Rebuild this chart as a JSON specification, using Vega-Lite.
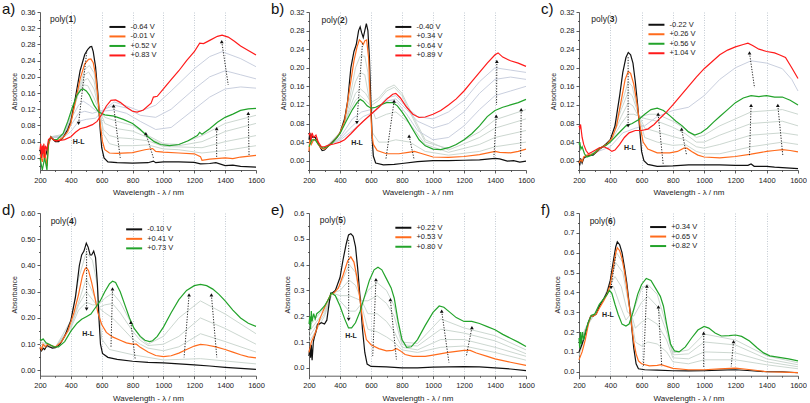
{
"$schema":"https://vega.github.io/schema/vega-lite/v6.json",
"padding":{"left":2,"top":2,"right":0,"bottom":0},
"background":"white",
"config":{"view":{"stroke":null},"font":"Liberation Sans",
"axis":{"labelFont":"Liberation Sans","titleFont":"Liberation Sans","labelFontSize":7.5,"titleFontWeight":"normal","domainColor":"#333","tickColor":"#333","labelColor":"#222","titleColor":"#222","domainWidth":0.8,"tickWidth":0.8,"labelPadding":2,"titlePadding":3,"labelFlush":false,"labelOverlap":false},
"axisX":{"titleFontSize":8,"labelPadding":3,"titlePadding":5},"axisY":{"titleFontSize":7,"grid":false},
"legend":{"symbolType":"M-4,0L4,0","symbolSize":16,"symbolStrokeWidth":2,"labelFontSize":7.5,"labelFont":"Liberation Sans","labelColor":"#222","rowPadding":0.5,"padding":0,"labelOffset":9.3,"orient":"none"},
"title":{"anchor":"start","frame":"group","dx":-38,"offset":-9,"fontSize":15,"fontWeight":"normal","color":"#111","font":"Liberation Sans"}},
"datasets":{
"a":[
{"s":"-0.64 V","x":200,"y":0.02},{"s":"-0.64 V","x":210,"y":0.0},{"s":"-0.64 V","x":220,"y":0.03},{"s":"-0.64 V","x":230,"y":0.0},{"s":"-0.64 V","x":240,"y":0.01},{"s":"-0.64 V","x":255,"y":0.035},{"s":"-0.64 V","x":270,"y":0.052},{"s":"-0.64 V","x":285,"y":0.045},{"s":"-0.64 V","x":300,"y":0.04},{"s":"-0.64 V","x":320,"y":0.04},{"s":"-0.64 V","x":350,"y":0.05},{"s":"-0.64 V","x":380,"y":0.07},{"s":"-0.64 V","x":400,"y":0.09},{"s":"-0.64 V","x":430,"y":0.15},{"s":"-0.64 V","x":460,"y":0.215},{"s":"-0.64 V","x":490,"y":0.255},{"s":"-0.64 V","x":510,"y":0.268},{"s":"-0.64 V","x":525,"y":0.274},{"s":"-0.64 V","x":535,"y":0.275},{"s":"-0.64 V","x":545,"y":0.262},{"s":"-0.64 V","x":560,"y":0.225},{"s":"-0.64 V","x":575,"y":0.16},{"s":"-0.64 V","x":590,"y":0.07},{"s":"-0.64 V","x":600,"y":0.025},{"s":"-0.64 V","x":615,"y":0.0},{"s":"-0.64 V","x":640,"y":-0.01},{"s":"-0.64 V","x":700,"y":-0.012},{"s":"-0.64 V","x":800,"y":-0.013},{"s":"-0.64 V","x":900,"y":-0.012},{"s":"-0.64 V","x":935,"y":-0.008},{"s":"-0.64 V","x":950,"y":-0.012},{"s":"-0.64 V","x":1000,"y":-0.01},{"s":"-0.64 V","x":1100,"y":-0.01},{"s":"-0.64 V","x":1200,"y":-0.011},{"s":"-0.64 V","x":1240,"y":-0.015},{"s":"-0.64 V","x":1300,"y":-0.014},{"s":"-0.64 V","x":1340,"y":-0.012},{"s":"-0.64 V","x":1400,"y":-0.019},{"s":"-0.64 V","x":1450,"y":-0.018},{"s":"-0.64 V","x":1500,"y":-0.021},{"s":"-0.64 V","x":1600,"y":-0.023},
{"s":"-0.01 V","x":200,"y":0.01},{"s":"-0.01 V","x":215,"y":-0.01},{"s":"-0.01 V","x":230,"y":0.02},{"s":"-0.01 V","x":245,"y":-0.02},{"s":"-0.01 V","x":255,"y":0.03},{"s":"-0.01 V","x":270,"y":0.052},{"s":"-0.01 V","x":290,"y":0.045},{"s":"-0.01 V","x":310,"y":0.042},{"s":"-0.01 V","x":350,"y":0.05},{"s":"-0.01 V","x":380,"y":0.065},{"s":"-0.01 V","x":400,"y":0.085},{"s":"-0.01 V","x":430,"y":0.14},{"s":"-0.01 V","x":460,"y":0.195},{"s":"-0.01 V","x":490,"y":0.232},{"s":"-0.01 V","x":515,"y":0.243},{"s":"-0.01 V","x":530,"y":0.244},{"s":"-0.01 V","x":545,"y":0.235},{"s":"-0.01 V","x":560,"y":0.205},{"s":"-0.01 V","x":575,"y":0.15},{"s":"-0.01 V","x":590,"y":0.085},{"s":"-0.01 V","x":605,"y":0.04},{"s":"-0.01 V","x":620,"y":0.02},{"s":"-0.01 V","x":650,"y":0.012},{"s":"-0.01 V","x":700,"y":0.011},{"s":"-0.01 V","x":800,"y":0.013},{"s":"-0.01 V","x":880,"y":0.02},{"s":"-0.01 V","x":930,"y":0.023},{"s":"-0.01 V","x":950,"y":0.016},{"s":"-0.01 V","x":1000,"y":0.014},{"s":"-0.01 V","x":1100,"y":0.012},{"s":"-0.01 V","x":1200,"y":0.01},{"s":"-0.01 V","x":1240,"y":0.003},{"s":"-0.01 V","x":1250,"y":-0.006},{"s":"-0.01 V","x":1300,"y":-0.003},{"s":"-0.01 V","x":1400,"y":0.0},{"s":"-0.01 V","x":1450,"y":-0.002},{"s":"-0.01 V","x":1500,"y":0.002},{"s":"-0.01 V","x":1600,"y":0.006},
{"s":"+0.52 V","x":200,"y":0.0},{"s":"+0.52 V","x":215,"y":-0.03},{"s":"+0.52 V","x":230,"y":0.0},{"s":"+0.52 V","x":245,"y":-0.03},{"s":"+0.52 V","x":255,"y":0.04},{"s":"+0.52 V","x":270,"y":0.05},{"s":"+0.52 V","x":290,"y":0.045},{"s":"+0.52 V","x":310,"y":0.045},{"s":"+0.52 V","x":350,"y":0.06},{"s":"+0.52 V","x":380,"y":0.09},{"s":"+0.52 V","x":410,"y":0.125},{"s":"+0.52 V","x":440,"y":0.155},{"s":"+0.52 V","x":465,"y":0.168},{"s":"+0.52 V","x":480,"y":0.17},{"s":"+0.52 V","x":500,"y":0.165},{"s":"+0.52 V","x":520,"y":0.155},{"s":"+0.52 V","x":550,"y":0.13},{"s":"+0.52 V","x":580,"y":0.113},{"s":"+0.52 V","x":620,"y":0.106},{"s":"+0.52 V","x":680,"y":0.103},{"s":"+0.52 V","x":740,"y":0.095},{"s":"+0.52 V","x":800,"y":0.085},{"s":"+0.52 V","x":850,"y":0.07},{"s":"+0.52 V","x":900,"y":0.052},{"s":"+0.52 V","x":940,"y":0.04},{"s":"+0.52 V","x":980,"y":0.033},{"s":"+0.52 V","x":1040,"y":0.03},{"s":"+0.52 V","x":1100,"y":0.033},{"s":"+0.52 V","x":1160,"y":0.042},{"s":"+0.52 V","x":1220,"y":0.055},{"s":"+0.52 V","x":1235,"y":0.063},{"s":"+0.52 V","x":1250,"y":0.058},{"s":"+0.52 V","x":1300,"y":0.072},{"s":"+0.52 V","x":1350,"y":0.088},{"s":"+0.52 V","x":1400,"y":0.1},{"s":"+0.52 V","x":1450,"y":0.108},{"s":"+0.52 V","x":1500,"y":0.117},{"s":"+0.52 V","x":1550,"y":0.121},{"s":"+0.52 V","x":1600,"y":0.122},
{"s":"+0.83 V","x":200,"y":0.02},{"s":"+0.83 V","x":205,"y":0.035},{"s":"+0.83 V","x":210,"y":0.0},{"s":"+0.83 V","x":215,"y":0.03},{"s":"+0.83 V","x":220,"y":0.01},{"s":"+0.83 V","x":225,"y":0.035},{"s":"+0.83 V","x":230,"y":0.0},{"s":"+0.83 V","x":235,"y":0.03},{"s":"+0.83 V","x":245,"y":0.02},{"s":"+0.83 V","x":255,"y":0.045},{"s":"+0.83 V","x":270,"y":0.05},{"s":"+0.83 V","x":285,"y":0.045},{"s":"+0.83 V","x":300,"y":0.042},{"s":"+0.83 V","x":330,"y":0.043},{"s":"+0.83 V","x":360,"y":0.045},{"s":"+0.83 V","x":400,"y":0.052},{"s":"+0.83 V","x":430,"y":0.063},{"s":"+0.83 V","x":460,"y":0.072},{"s":"+0.83 V","x":500,"y":0.076},{"s":"+0.83 V","x":540,"y":0.082},{"s":"+0.83 V","x":570,"y":0.09},{"s":"+0.83 V","x":600,"y":0.107},{"s":"+0.83 V","x":630,"y":0.128},{"s":"+0.83 V","x":660,"y":0.142},{"s":"+0.83 V","x":690,"y":0.143},{"s":"+0.83 V","x":720,"y":0.137},{"s":"+0.83 V","x":760,"y":0.125},{"s":"+0.83 V","x":800,"y":0.115},{"s":"+0.83 V","x":830,"y":0.113},{"s":"+0.83 V","x":870,"y":0.118},{"s":"+0.83 V","x":920,"y":0.135},{"s":"+0.83 V","x":935,"y":0.15},{"s":"+0.83 V","x":960,"y":0.152},{"s":"+0.83 V","x":1000,"y":0.17},{"s":"+0.83 V","x":1050,"y":0.193},{"s":"+0.83 V","x":1100,"y":0.215},{"s":"+0.83 V","x":1150,"y":0.24},{"s":"+0.83 V","x":1200,"y":0.262},{"s":"+0.83 V","x":1235,"y":0.283},{"s":"+0.83 V","x":1260,"y":0.282},{"s":"+0.83 V","x":1300,"y":0.29},{"s":"+0.83 V","x":1350,"y":0.3},{"s":"+0.83 V","x":1380,"y":0.303},{"s":"+0.83 V","x":1420,"y":0.298},{"s":"+0.83 V","x":1460,"y":0.288},{"s":"+0.83 V","x":1500,"y":0.276},{"s":"+0.83 V","x":1550,"y":0.265},{"s":"+0.83 V","x":1600,"y":0.254},
{"s":"g1","x":270,"y":0.052},{"s":"g1","x":350,"y":0.05},{"s":"g1","x":400,"y":0.088},{"s":"g1","x":450,"y":0.17},{"s":"g1","x":490,"y":0.218},{"s":"g1","x":520,"y":0.228},{"s":"g1","x":550,"y":0.21},{"s":"g1","x":580,"y":0.14},{"s":"g1","x":610,"y":0.06},{"s":"g1","x":650,"y":0.035},{"s":"g1","x":700,"y":0.03},{"s":"g1","x":800,"y":0.03},{"s":"g1","x":900,"y":0.032},{"s":"g1","x":1000,"y":0.022},{"s":"g1","x":1100,"y":0.02},{"s":"g1","x":1250,"y":0.012},{"s":"g1","x":1400,"y":0.018},{"s":"g1","x":1600,"y":0.03},
{"s":"g2","x":270,"y":0.052},{"s":"g2","x":350,"y":0.052},{"s":"g2","x":400,"y":0.092},{"s":"g2","x":450,"y":0.165},{"s":"g2","x":490,"y":0.205},{"s":"g2","x":515,"y":0.212},{"s":"g2","x":550,"y":0.19},{"s":"g2","x":580,"y":0.13},{"s":"g2","x":610,"y":0.07},{"s":"g2","x":650,"y":0.055},{"s":"g2","x":700,"y":0.05},{"s":"g2","x":800,"y":0.047},{"s":"g2","x":900,"y":0.042},{"s":"g2","x":1000,"y":0.028},{"s":"g2","x":1100,"y":0.027},{"s":"g2","x":1250,"y":0.025},{"s":"g2","x":1400,"y":0.04},{"s":"g2","x":1600,"y":0.055},
{"s":"g3","x":270,"y":0.052},{"s":"g3","x":350,"y":0.055},{"s":"g3","x":400,"y":0.098},{"s":"g3","x":450,"y":0.16},{"s":"g3","x":490,"y":0.192},{"s":"g3","x":510,"y":0.196},{"s":"g3","x":550,"y":0.17},{"s":"g3","x":580,"y":0.125},{"s":"g3","x":620,"y":0.085},{"s":"g3","x":700,"y":0.072},{"s":"g3","x":800,"y":0.066},{"s":"g3","x":900,"y":0.05},{"s":"g3","x":1000,"y":0.032},{"s":"g3","x":1100,"y":0.03},{"s":"g3","x":1250,"y":0.04},{"s":"g3","x":1400,"y":0.065},{"s":"g3","x":1600,"y":0.085},
{"s":"g4","x":270,"y":0.052},{"s":"g4","x":350,"y":0.058},{"s":"g4","x":400,"y":0.105},{"s":"g4","x":450,"y":0.16},{"s":"g4","x":485,"y":0.18},{"s":"g4","x":510,"y":0.178},{"s":"g4","x":550,"y":0.148},{"s":"g4","x":580,"y":0.12},{"s":"g4","x":620,"y":0.1},{"s":"g4","x":700,"y":0.09},{"s":"g4","x":800,"y":0.08},{"s":"g4","x":900,"y":0.055},{"s":"g4","x":1000,"y":0.035},{"s":"g4","x":1100,"y":0.033},{"s":"g4","x":1250,"y":0.055},{"s":"g4","x":1400,"y":0.085},{"s":"g4","x":1600,"y":0.105},
{"s":"b1","x":270,"y":0.05},{"s":"b1","x":350,"y":0.055},{"s":"b1","x":400,"y":0.095},{"s":"b1","x":450,"y":0.13},{"s":"b1","x":480,"y":0.14},{"s":"b1","x":520,"y":0.13},{"s":"b1","x":560,"y":0.117},{"s":"b1","x":600,"y":0.115},{"s":"b1","x":680,"y":0.118},{"s":"b1","x":760,"y":0.11},{"s":"b1","x":850,"y":0.09},{"s":"b1","x":950,"y":0.07},{"s":"b1","x":1050,"y":0.075},{"s":"b1","x":1200,"y":0.12},{"s":"b1","x":1300,"y":0.15},{"s":"b1","x":1400,"y":0.17},{"s":"b1","x":1500,"y":0.175},{"s":"b1","x":1600,"y":0.172},
{"s":"b2","x":270,"y":0.05},{"s":"b2","x":350,"y":0.052},{"s":"b2","x":400,"y":0.08},{"s":"b2","x":450,"y":0.11},{"s":"b2","x":490,"y":0.115},{"s":"b2","x":540,"y":0.11},{"s":"b2","x":600,"y":0.117},{"s":"b2","x":680,"y":0.13},{"s":"b2","x":760,"y":0.123},{"s":"b2","x":850,"y":0.105},{"s":"b2","x":950,"y":0.1},{"s":"b2","x":1050,"y":0.12},{"s":"b2","x":1200,"y":0.17},{"s":"b2","x":1300,"y":0.2},{"s":"b2","x":1400,"y":0.215},{"s":"b2","x":1500,"y":0.205},{"s":"b2","x":1600,"y":0.195},
{"s":"b3","x":270,"y":0.05},{"s":"b3","x":350,"y":0.05},{"s":"b3","x":400,"y":0.065},{"s":"b3","x":450,"y":0.09},{"s":"b3","x":500,"y":0.095},{"s":"b3","x":560,"y":0.098},{"s":"b3","x":620,"y":0.12},{"s":"b3","x":680,"y":0.138},{"s":"b3","x":760,"y":0.128},{"s":"b3","x":850,"y":0.115},{"s":"b3","x":950,"y":0.13},{"s":"b3","x":1050,"y":0.165},{"s":"b3","x":1200,"y":0.22},{"s":"b3","x":1300,"y":0.25},{"s":"b3","x":1380,"y":0.262},{"s":"b3","x":1500,"y":0.245},{"s":"b3","x":1600,"y":0.225}
],
"a_arr":[{"x":450,"y":0.085,"x2":504,"y2":0.265,"d":"down"},{"x":677,"y":0.128,"x2":720,"y2":0.0,"d":"up"},{"x":886,"y":0.06,"x2":935,"y2":0.0,"d":"up"},{"x":1378,"y":0.287,"x2":1420,"y2":0.18,"d":"up"},{"x":1345,"y":0.072,"x2":1345,"y2":0.0,"d":"up"},{"x":1550,"y":0.11,"x2":1555,"y2":0.005,"d":"up"}],
"a_t":[{"k":"p","x":265,"y":0.343,"n":"1"},{"k":"h","x":450,"y":0.038}],
"b":[
{"s":"-0.40 V","x":200,"y":0.045},{"s":"-0.40 V","x":205,"y":0.06},{"s":"-0.40 V","x":210,"y":0.04},{"s":"-0.40 V","x":215,"y":0.055},{"s":"-0.40 V","x":225,"y":0.05},{"s":"-0.40 V","x":240,"y":0.05},{"s":"-0.40 V","x":255,"y":0.04},{"s":"-0.40 V","x":270,"y":0.03},{"s":"-0.40 V","x":285,"y":0.022},{"s":"-0.40 V","x":300,"y":0.023},{"s":"-0.40 V","x":320,"y":0.03},{"s":"-0.40 V","x":350,"y":0.04},{"s":"-0.40 V","x":380,"y":0.05},{"s":"-0.40 V","x":400,"y":0.06},{"s":"-0.40 V","x":430,"y":0.09},{"s":"-0.40 V","x":450,"y":0.13},{"s":"-0.40 V","x":470,"y":0.2},{"s":"-0.40 V","x":490,"y":0.235},{"s":"-0.40 V","x":505,"y":0.25},{"s":"-0.40 V","x":520,"y":0.28},{"s":"-0.40 V","x":530,"y":0.288},{"s":"-0.40 V","x":540,"y":0.275},{"s":"-0.40 V","x":550,"y":0.265},{"s":"-0.40 V","x":560,"y":0.28},{"s":"-0.40 V","x":570,"y":0.295},{"s":"-0.40 V","x":580,"y":0.28},{"s":"-0.40 V","x":590,"y":0.22},{"s":"-0.40 V","x":600,"y":0.12},{"s":"-0.40 V","x":607,"y":0.05},{"s":"-0.40 V","x":615,"y":0.01},{"s":"-0.40 V","x":630,"y":-0.005},{"s":"-0.40 V","x":680,"y":-0.009},{"s":"-0.40 V","x":750,"y":-0.008},{"s":"-0.40 V","x":800,"y":-0.006},{"s":"-0.40 V","x":900,"y":-0.002},{"s":"-0.40 V","x":1000,"y":0.0},{"s":"-0.40 V","x":1100,"y":0.0},{"s":"-0.40 V","x":1200,"y":0.001},{"s":"-0.40 V","x":1300,"y":0.002},{"s":"-0.40 V","x":1400,"y":0.005},{"s":"-0.40 V","x":1430,"y":0.004},{"s":"-0.40 V","x":1480,"y":-0.001},{"s":"-0.40 V","x":1520,"y":0.0},{"s":"-0.40 V","x":1560,"y":-0.003},{"s":"-0.40 V","x":1600,"y":-0.001},
{"s":"+0.34 V","x":200,"y":0.02},{"s":"+0.34 V","x":205,"y":0.045},{"s":"+0.34 V","x":215,"y":0.035},{"s":"+0.34 V","x":230,"y":0.045},{"s":"+0.34 V","x":245,"y":0.045},{"s":"+0.34 V","x":260,"y":0.035},{"s":"+0.34 V","x":280,"y":0.027},{"s":"+0.34 V","x":300,"y":0.025},{"s":"+0.34 V","x":330,"y":0.033},{"s":"+0.34 V","x":360,"y":0.042},{"s":"+0.34 V","x":400,"y":0.06},{"s":"+0.34 V","x":430,"y":0.085},{"s":"+0.34 V","x":460,"y":0.15},{"s":"+0.34 V","x":490,"y":0.215},{"s":"+0.34 V","x":510,"y":0.245},{"s":"+0.34 V","x":525,"y":0.26},{"s":"+0.34 V","x":540,"y":0.255},{"s":"+0.34 V","x":550,"y":0.25},{"s":"+0.34 V","x":560,"y":0.258},{"s":"+0.34 V","x":572,"y":0.26},{"s":"+0.34 V","x":585,"y":0.22},{"s":"+0.34 V","x":595,"y":0.13},{"s":"+0.34 V","x":605,"y":0.06},{"s":"+0.34 V","x":615,"y":0.035},{"s":"+0.34 V","x":640,"y":0.022},{"s":"+0.34 V","x":700,"y":0.015},{"s":"+0.34 V","x":780,"y":0.015},{"s":"+0.34 V","x":840,"y":0.018},{"s":"+0.34 V","x":880,"y":0.02},{"s":"+0.34 V","x":920,"y":0.016},{"s":"+0.34 V","x":1000,"y":0.008},{"s":"+0.34 V","x":1100,"y":0.007},{"s":"+0.34 V","x":1200,"y":0.009},{"s":"+0.34 V","x":1300,"y":0.013},{"s":"+0.34 V","x":1400,"y":0.02},{"s":"+0.34 V","x":1430,"y":0.018},{"s":"+0.34 V","x":1500,"y":0.017},{"s":"+0.34 V","x":1550,"y":0.02},{"s":"+0.34 V","x":1600,"y":0.025},
{"s":"+0.64 V","x":200,"y":0.03},{"s":"+0.64 V","x":220,"y":0.045},{"s":"+0.64 V","x":240,"y":0.045},{"s":"+0.64 V","x":260,"y":0.035},{"s":"+0.64 V","x":290,"y":0.027},{"s":"+0.64 V","x":320,"y":0.03},{"s":"+0.64 V","x":350,"y":0.038},{"s":"+0.64 V","x":400,"y":0.058},{"s":"+0.64 V","x":440,"y":0.085},{"s":"+0.64 V","x":480,"y":0.11},{"s":"+0.64 V","x":510,"y":0.125},{"s":"+0.64 V","x":530,"y":0.132},{"s":"+0.64 V","x":550,"y":0.128},{"s":"+0.64 V","x":575,"y":0.118},{"s":"+0.64 V","x":600,"y":0.113},{"s":"+0.64 V","x":630,"y":0.115},{"s":"+0.64 V","x":660,"y":0.12},{"s":"+0.64 V","x":700,"y":0.125},{"s":"+0.64 V","x":740,"y":0.125},{"s":"+0.64 V","x":770,"y":0.118},{"s":"+0.64 V","x":800,"y":0.105},{"s":"+0.64 V","x":830,"y":0.09},{"s":"+0.64 V","x":870,"y":0.067},{"s":"+0.64 V","x":910,"y":0.045},{"s":"+0.64 V","x":950,"y":0.032},{"s":"+0.64 V","x":1000,"y":0.025},{"s":"+0.64 V","x":1050,"y":0.024},{"s":"+0.64 V","x":1100,"y":0.028},{"s":"+0.64 V","x":1150,"y":0.035},{"s":"+0.64 V","x":1200,"y":0.045},{"s":"+0.64 V","x":1250,"y":0.058},{"s":"+0.64 V","x":1300,"y":0.075},{"s":"+0.64 V","x":1350,"y":0.095},{"s":"+0.64 V","x":1400,"y":0.108},{"s":"+0.64 V","x":1450,"y":0.115},{"s":"+0.64 V","x":1500,"y":0.12},{"s":"+0.64 V","x":1550,"y":0.125},{"s":"+0.64 V","x":1600,"y":0.132},
{"s":"+0.89 V","x":200,"y":0.055},{"s":"+0.89 V","x":205,"y":0.06},{"s":"+0.89 V","x":212,"y":0.045},{"s":"+0.89 V","x":220,"y":0.06},{"s":"+0.89 V","x":230,"y":0.05},{"s":"+0.89 V","x":245,"y":0.055},{"s":"+0.89 V","x":260,"y":0.04},{"s":"+0.89 V","x":280,"y":0.03},{"s":"+0.89 V","x":300,"y":0.03},{"s":"+0.89 V","x":330,"y":0.034},{"s":"+0.89 V","x":360,"y":0.036},{"s":"+0.89 V","x":400,"y":0.04},{"s":"+0.89 V","x":430,"y":0.045},{"s":"+0.89 V","x":470,"y":0.058},{"s":"+0.89 V","x":510,"y":0.072},{"s":"+0.89 V","x":550,"y":0.085},{"s":"+0.89 V","x":600,"y":0.1},{"s":"+0.89 V","x":650,"y":0.115},{"s":"+0.89 V","x":700,"y":0.132},{"s":"+0.89 V","x":740,"y":0.143},{"s":"+0.89 V","x":760,"y":0.145},{"s":"+0.89 V","x":790,"y":0.135},{"s":"+0.89 V","x":830,"y":0.115},{"s":"+0.89 V","x":870,"y":0.1},{"s":"+0.89 V","x":910,"y":0.093},{"s":"+0.89 V","x":950,"y":0.094},{"s":"+0.89 V","x":1000,"y":0.1},{"s":"+0.89 V","x":1050,"y":0.108},{"s":"+0.89 V","x":1100,"y":0.12},{"s":"+0.89 V","x":1150,"y":0.133},{"s":"+0.89 V","x":1200,"y":0.15},{"s":"+0.89 V","x":1250,"y":0.17},{"s":"+0.89 V","x":1300,"y":0.19},{"s":"+0.89 V","x":1350,"y":0.21},{"s":"+0.89 V","x":1400,"y":0.228},{"s":"+0.89 V","x":1420,"y":0.232},{"s":"+0.89 V","x":1450,"y":0.223},{"s":"+0.89 V","x":1500,"y":0.215},{"s":"+0.89 V","x":1550,"y":0.21},{"s":"+0.89 V","x":1600,"y":0.203},
{"s":"g1","x":300,"y":0.025},{"s":"g1","x":400,"y":0.06},{"s":"g1","x":460,"y":0.13},{"s":"g1","x":500,"y":0.2},{"s":"g1","x":530,"y":0.225},{"s":"g1","x":560,"y":0.225},{"s":"g1","x":580,"y":0.19},{"s":"g1","x":610,"y":0.06},{"s":"g1","x":650,"y":0.04},{"s":"g1","x":700,"y":0.04},{"s":"g1","x":760,"y":0.045},{"s":"g1","x":850,"y":0.04},{"s":"g1","x":950,"y":0.02},{"s":"g1","x":1100,"y":0.012},{"s":"g1","x":1300,"y":0.02},{"s":"g1","x":1400,"y":0.03},{"s":"g1","x":1600,"y":0.04},
{"s":"g2","x":300,"y":0.025},{"s":"g2","x":400,"y":0.06},{"s":"g2","x":460,"y":0.12},{"s":"g2","x":500,"y":0.17},{"s":"g2","x":530,"y":0.19},{"s":"g2","x":560,"y":0.185},{"s":"g2","x":590,"y":0.13},{"s":"g2","x":630,"y":0.09},{"s":"g2","x":700,"y":0.1},{"s":"g2","x":760,"y":0.105},{"s":"g2","x":850,"y":0.08},{"s":"g2","x":950,"y":0.035},{"s":"g2","x":1100,"y":0.018},{"s":"g2","x":1300,"y":0.035},{"s":"g2","x":1400,"y":0.05},{"s":"g2","x":1600,"y":0.065},
{"s":"g3","x":300,"y":0.026},{"s":"g3","x":400,"y":0.06},{"s":"g3","x":460,"y":0.11},{"s":"g3","x":500,"y":0.145},{"s":"g3","x":530,"y":0.155},{"s":"g3","x":565,"y":0.145},{"s":"g3","x":600,"y":0.125},{"s":"g3","x":650,"y":0.135},{"s":"g3","x":700,"y":0.155},{"s":"g3","x":750,"y":0.163},{"s":"g3","x":800,"y":0.145},{"s":"g3","x":880,"y":0.09},{"s":"g3","x":950,"y":0.045},{"s":"g3","x":1100,"y":0.023},{"s":"g3","x":1300,"y":0.05},{"s":"g3","x":1400,"y":0.07},{"s":"g3","x":1600,"y":0.09},
{"s":"g4","x":300,"y":0.027},{"s":"g4","x":400,"y":0.06},{"s":"g4","x":460,"y":0.105},{"s":"g4","x":500,"y":0.13},{"s":"g4","x":530,"y":0.14},{"s":"g4","x":565,"y":0.13},{"s":"g4","x":600,"y":0.118},{"s":"g4","x":650,"y":0.13},{"s":"g4","x":700,"y":0.15},{"s":"g4","x":750,"y":0.158},{"s":"g4","x":800,"y":0.14},{"s":"g4","x":880,"y":0.085},{"s":"g4","x":950,"y":0.04},{"s":"g4","x":1100,"y":0.026},{"s":"g4","x":1300,"y":0.062},{"s":"g4","x":1400,"y":0.088},{"s":"g4","x":1600,"y":0.11},
{"s":"b1","x":300,"y":0.028},{"s":"b1","x":400,"y":0.05},{"s":"b1","x":480,"y":0.09},{"s":"b1","x":540,"y":0.105},{"s":"b1","x":600,"y":0.11},{"s":"b1","x":660,"y":0.12},{"s":"b1","x":720,"y":0.13},{"s":"b1","x":770,"y":0.125},{"s":"b1","x":830,"y":0.1},{"s":"b1","x":900,"y":0.065},{"s":"b1","x":1000,"y":0.045},{"s":"b1","x":1100,"y":0.05},{"s":"b1","x":1200,"y":0.075},{"s":"b1","x":1300,"y":0.11},{"s":"b1","x":1400,"y":0.14},{"s":"b1","x":1500,"y":0.15},{"s":"b1","x":1600,"y":0.16},
{"s":"b2","x":300,"y":0.029},{"s":"b2","x":400,"y":0.047},{"s":"b2","x":480,"y":0.075},{"s":"b2","x":550,"y":0.095},{"s":"b2","x":620,"y":0.105},{"s":"b2","x":700,"y":0.128},{"s":"b2","x":760,"y":0.133},{"s":"b2","x":830,"y":0.11},{"s":"b2","x":900,"y":0.085},{"s":"b2","x":1000,"y":0.07},{"s":"b2","x":1100,"y":0.08},{"s":"b2","x":1200,"y":0.105},{"s":"b2","x":1300,"y":0.145},{"s":"b2","x":1400,"y":0.175},{"s":"b2","x":1500,"y":0.18},{"s":"b2","x":1600,"y":0.175},
{"s":"b3","x":300,"y":0.03},{"s":"b3","x":400,"y":0.044},{"s":"b3","x":480,"y":0.065},{"s":"b3","x":550,"y":0.085},{"s":"b3","x":620,"y":0.105},{"s":"b3","x":700,"y":0.135},{"s":"b3","x":760,"y":0.14},{"s":"b3","x":830,"y":0.115},{"s":"b3","x":900,"y":0.095},{"s":"b3","x":1000,"y":0.09},{"s":"b3","x":1100,"y":0.105},{"s":"b3","x":1200,"y":0.13},{"s":"b3","x":1300,"y":0.17},{"s":"b3","x":1400,"y":0.2},{"s":"b3","x":1500,"y":0.195},{"s":"b3","x":1600,"y":0.19}
],
"b_arr":[{"x":509,"y":0.082,"x2":545,"y2":0.253,"d":"down"},{"x":749,"y":0.128,"x2":696,"y2":0.003,"d":"up"},{"x":846,"y":0.053,"x2":878,"y2":0.003,"d":"up"},{"x":1408,"y":0.096,"x2":1393,"y2":0.008,"d":"up"},{"x":1412,"y":0.214,"x2":1410,"y2":0.12,"d":"up"},{"x":1569,"y":0.11,"x2":1565,"y2":0.008,"d":"up"}],
"b_t":[{"k":"p","x":281,"y":0.303,"n":"2"},{"k":"h","x":510,"y":0.039}],
"c":[
{"s":"-0.22 V","x":200,"y":0.0},{"s":"-0.22 V","x":205,"y":-0.01},{"s":"-0.22 V","x":210,"y":0.005},{"s":"-0.22 V","x":220,"y":-0.005},{"s":"-0.22 V","x":230,"y":0.005},{"s":"-0.22 V","x":250,"y":0.01},{"s":"-0.22 V","x":270,"y":0.012},{"s":"-0.22 V","x":290,"y":0.012},{"s":"-0.22 V","x":310,"y":0.018},{"s":"-0.22 V","x":340,"y":0.027},{"s":"-0.22 V","x":370,"y":0.035},{"s":"-0.22 V","x":400,"y":0.045},{"s":"-0.22 V","x":430,"y":0.075},{"s":"-0.22 V","x":460,"y":0.14},{"s":"-0.22 V","x":480,"y":0.19},{"s":"-0.22 V","x":500,"y":0.222},{"s":"-0.22 V","x":515,"y":0.233},{"s":"-0.22 V","x":530,"y":0.228},{"s":"-0.22 V","x":545,"y":0.21},{"s":"-0.22 V","x":560,"y":0.17},{"s":"-0.22 V","x":575,"y":0.12},{"s":"-0.22 V","x":590,"y":0.06},{"s":"-0.22 V","x":600,"y":0.02},{"s":"-0.22 V","x":615,"y":0.0},{"s":"-0.22 V","x":640,"y":-0.008},{"s":"-0.22 V","x":700,"y":-0.012},{"s":"-0.22 V","x":800,"y":-0.011},{"s":"-0.22 V","x":900,"y":-0.009},{"s":"-0.22 V","x":1000,"y":-0.009},{"s":"-0.22 V","x":1100,"y":-0.009},{"s":"-0.22 V","x":1200,"y":-0.01},{"s":"-0.22 V","x":1280,"y":-0.01},{"s":"-0.22 V","x":1300,"y":-0.007},{"s":"-0.22 V","x":1320,"y":-0.012},{"s":"-0.22 V","x":1400,"y":-0.012},{"s":"-0.22 V","x":1450,"y":-0.014},{"s":"-0.22 V","x":1500,"y":-0.015},{"s":"-0.22 V","x":1550,"y":-0.016},{"s":"-0.22 V","x":1600,"y":-0.017},
{"s":"+0.26 V","x":200,"y":-0.005},{"s":"+0.26 V","x":210,"y":0.002},{"s":"+0.26 V","x":220,"y":-0.002},{"s":"+0.26 V","x":230,"y":0.008},{"s":"+0.26 V","x":250,"y":0.012},{"s":"+0.26 V","x":270,"y":0.013},{"s":"+0.26 V","x":300,"y":0.016},{"s":"+0.26 V","x":340,"y":0.028},{"s":"+0.26 V","x":380,"y":0.036},{"s":"+0.26 V","x":410,"y":0.048},{"s":"+0.26 V","x":440,"y":0.075},{"s":"+0.26 V","x":470,"y":0.13},{"s":"+0.26 V","x":495,"y":0.175},{"s":"+0.26 V","x":515,"y":0.192},{"s":"+0.26 V","x":530,"y":0.188},{"s":"+0.26 V","x":550,"y":0.165},{"s":"+0.26 V","x":570,"y":0.125},{"s":"+0.26 V","x":590,"y":0.075},{"s":"+0.26 V","x":610,"y":0.04},{"s":"+0.26 V","x":640,"y":0.025},{"s":"+0.26 V","x":700,"y":0.017},{"s":"+0.26 V","x":780,"y":0.017},{"s":"+0.26 V","x":830,"y":0.02},{"s":"+0.26 V","x":870,"y":0.027},{"s":"+0.26 V","x":890,"y":0.027},{"s":"+0.26 V","x":920,"y":0.02},{"s":"+0.26 V","x":960,"y":0.012},{"s":"+0.26 V","x":1000,"y":0.008},{"s":"+0.26 V","x":1100,"y":0.006},{"s":"+0.26 V","x":1200,"y":0.009},{"s":"+0.26 V","x":1300,"y":0.014},{"s":"+0.26 V","x":1400,"y":0.02},{"s":"+0.26 V","x":1450,"y":0.022},{"s":"+0.26 V","x":1500,"y":0.024},{"s":"+0.26 V","x":1550,"y":0.022},{"s":"+0.26 V","x":1600,"y":0.019},
{"s":"+0.56 V","x":200,"y":0.035},{"s":"+0.56 V","x":205,"y":0.04},{"s":"+0.56 V","x":212,"y":0.025},{"s":"+0.56 V","x":220,"y":0.03},{"s":"+0.56 V","x":235,"y":0.015},{"s":"+0.56 V","x":250,"y":0.008},{"s":"+0.56 V","x":270,"y":0.01},{"s":"+0.56 V","x":300,"y":0.017},{"s":"+0.56 V","x":330,"y":0.027},{"s":"+0.56 V","x":370,"y":0.032},{"s":"+0.56 V","x":400,"y":0.04},{"s":"+0.56 V","x":450,"y":0.058},{"s":"+0.56 V","x":500,"y":0.075},{"s":"+0.56 V","x":540,"y":0.08},{"s":"+0.56 V","x":580,"y":0.088},{"s":"+0.56 V","x":620,"y":0.1},{"s":"+0.56 V","x":660,"y":0.11},{"s":"+0.56 V","x":700,"y":0.113},{"s":"+0.56 V","x":740,"y":0.108},{"s":"+0.56 V","x":780,"y":0.097},{"s":"+0.56 V","x":820,"y":0.085},{"s":"+0.56 V","x":860,"y":0.075},{"s":"+0.56 V","x":900,"y":0.062},{"s":"+0.56 V","x":940,"y":0.055},{"s":"+0.56 V","x":980,"y":0.06},{"s":"+0.56 V","x":1020,"y":0.07},{"s":"+0.56 V","x":1060,"y":0.083},{"s":"+0.56 V","x":1100,"y":0.095},{"s":"+0.56 V","x":1150,"y":0.11},{"s":"+0.56 V","x":1200,"y":0.125},{"s":"+0.56 V","x":1250,"y":0.135},{"s":"+0.56 V","x":1300,"y":0.14},{"s":"+0.56 V","x":1350,"y":0.138},{"s":"+0.56 V","x":1400,"y":0.14},{"s":"+0.56 V","x":1450,"y":0.137},{"s":"+0.56 V","x":1500,"y":0.137},{"s":"+0.56 V","x":1550,"y":0.13},{"s":"+0.56 V","x":1600,"y":0.12},
{"s":"+1.04 V","x":200,"y":0.075},{"s":"+1.04 V","x":205,"y":0.07},{"s":"+1.04 V","x":210,"y":0.078},{"s":"+1.04 V","x":220,"y":0.05},{"s":"+1.04 V","x":230,"y":0.035},{"s":"+1.04 V","x":245,"y":0.022},{"s":"+1.04 V","x":260,"y":0.015},{"s":"+1.04 V","x":280,"y":0.018},{"s":"+1.04 V","x":300,"y":0.022},{"s":"+1.04 V","x":330,"y":0.028},{"s":"+1.04 V","x":360,"y":0.03},{"s":"+1.04 V","x":390,"y":0.025},{"s":"+1.04 V","x":410,"y":0.02},{"s":"+1.04 V","x":430,"y":0.023},{"s":"+1.04 V","x":460,"y":0.035},{"s":"+1.04 V","x":490,"y":0.05},{"s":"+1.04 V","x":520,"y":0.06},{"s":"+1.04 V","x":560,"y":0.065},{"s":"+1.04 V","x":600,"y":0.065},{"s":"+1.04 V","x":640,"y":0.068},{"s":"+1.04 V","x":680,"y":0.078},{"s":"+1.04 V","x":720,"y":0.092},{"s":"+1.04 V","x":760,"y":0.105},{"s":"+1.04 V","x":800,"y":0.12},{"s":"+1.04 V","x":850,"y":0.14},{"s":"+1.04 V","x":900,"y":0.16},{"s":"+1.04 V","x":950,"y":0.18},{"s":"+1.04 V","x":1000,"y":0.198},{"s":"+1.04 V","x":1050,"y":0.213},{"s":"+1.04 V","x":1100,"y":0.228},{"s":"+1.04 V","x":1150,"y":0.238},{"s":"+1.04 V","x":1200,"y":0.245},{"s":"+1.04 V","x":1250,"y":0.25},{"s":"+1.04 V","x":1280,"y":0.253},{"s":"+1.04 V","x":1310,"y":0.248},{"s":"+1.04 V","x":1350,"y":0.24},{"s":"+1.04 V","x":1400,"y":0.235},{"s":"+1.04 V","x":1450,"y":0.232},{"s":"+1.04 V","x":1480,"y":0.228},{"s":"+1.04 V","x":1520,"y":0.222},{"s":"+1.04 V","x":1560,"y":0.2},{"s":"+1.04 V","x":1600,"y":0.177},
{"s":"g1","x":270,"y":0.012},{"s":"g1","x":400,"y":0.043},{"s":"g1","x":470,"y":0.12},{"s":"g1","x":515,"y":0.17},{"s":"g1","x":540,"y":0.16},{"s":"g1","x":580,"y":0.1},{"s":"g1","x":620,"y":0.05},{"s":"g1","x":700,"y":0.04},{"s":"g1","x":800,"y":0.033},{"s":"g1","x":880,"y":0.035},{"s":"g1","x":950,"y":0.02},{"s":"g1","x":1000,"y":0.015},{"s":"g1","x":1100,"y":0.015},{"s":"g1","x":1300,"y":0.03},{"s":"g1","x":1500,"y":0.04},{"s":"g1","x":1600,"y":0.035},
{"s":"g2","x":270,"y":0.012},{"s":"g2","x":400,"y":0.042},{"s":"g2","x":470,"y":0.11},{"s":"g2","x":515,"y":0.148},{"s":"g2","x":540,"y":0.14},{"s":"g2","x":580,"y":0.1},{"s":"g2","x":620,"y":0.07},{"s":"g2","x":700,"y":0.062},{"s":"g2","x":800,"y":0.052},{"s":"g2","x":880,"y":0.045},{"s":"g2","x":950,"y":0.03},{"s":"g2","x":1000,"y":0.027},{"s":"g2","x":1100,"y":0.035},{"s":"g2","x":1300,"y":0.055},{"s":"g2","x":1500,"y":0.06},{"s":"g2","x":1600,"y":0.055},
{"s":"g3","x":270,"y":0.012},{"s":"g3","x":400,"y":0.041},{"s":"g3","x":470,"y":0.095},{"s":"g3","x":515,"y":0.125},{"s":"g3","x":545,"y":0.118},{"s":"g3","x":580,"y":0.095},{"s":"g3","x":630,"y":0.09},{"s":"g3","x":700,"y":0.085},{"s":"g3","x":800,"y":0.072},{"s":"g3","x":880,"y":0.058},{"s":"g3","x":950,"y":0.04},{"s":"g3","x":1000,"y":0.04},{"s":"g3","x":1100,"y":0.055},{"s":"g3","x":1300,"y":0.08},{"s":"g3","x":1500,"y":0.085},{"s":"g3","x":1600,"y":0.075},
{"s":"g4","x":270,"y":0.011},{"s":"g4","x":400,"y":0.04},{"s":"g4","x":470,"y":0.08},{"s":"g4","x":515,"y":0.1},{"s":"g4","x":550,"y":0.1},{"s":"g4","x":590,"y":0.095},{"s":"g4","x":650,"y":0.1},{"s":"g4","x":700,"y":0.1},{"s":"g4","x":800,"y":0.085},{"s":"g4","x":880,"y":0.068},{"s":"g4","x":950,"y":0.05},{"s":"g4","x":1000,"y":0.055},{"s":"g4","x":1100,"y":0.075},{"s":"g4","x":1300,"y":0.105},{"s":"g4","x":1500,"y":0.11},{"s":"g4","x":1600,"y":0.1},
{"s":"b1","x":270,"y":0.013},{"s":"b1","x":400,"y":0.03},{"s":"b1","x":480,"y":0.06},{"s":"b1","x":560,"y":0.07},{"s":"b1","x":620,"y":0.075},{"s":"b1","x":700,"y":0.095},{"s":"b1","x":800,"y":0.108},{"s":"b1","x":900,"y":0.115},{"s":"b1","x":1000,"y":0.14},{"s":"b1","x":1100,"y":0.175},{"s":"b1","x":1200,"y":0.2},{"s":"b1","x":1300,"y":0.215},{"s":"b1","x":1400,"y":0.21},{"s":"b1","x":1500,"y":0.198},{"s":"b1","x":1560,"y":0.175},{"s":"b1","x":1600,"y":0.15}
],
"c_arr":[{"x":514,"y":0.075,"x2":514,"y2":0.225,"d":"down"},{"x":706,"y":0.1,"x2":738,"y2":-0.007,"d":"up"},{"x":856,"y":0.068,"x2":888,"y2":0.011,"d":"up"},{"x":1290,"y":0.232,"x2":1322,"y2":0.157,"d":"up"},{"x":1300,"y":0.119,"x2":1290,"y2":0.011,"d":"up"},{"x":1471,"y":0.119,"x2":1503,"y2":0.011,"d":"up"}],
"c_t":[{"k":"p","x":279,"y":0.305,"n":"3"},{"k":"h","x":525,"y":0.028}],
"d":[
{"s":"-0.10 V","x":200,"y":0.085},{"s":"-0.10 V","x":210,"y":0.075},{"s":"-0.10 V","x":220,"y":0.085},{"s":"-0.10 V","x":230,"y":0.08},{"s":"-0.10 V","x":245,"y":0.095},{"s":"-0.10 V","x":260,"y":0.09},{"s":"-0.10 V","x":280,"y":0.085},{"s":"-0.10 V","x":300,"y":0.087},{"s":"-0.10 V","x":330,"y":0.1},{"s":"-0.10 V","x":360,"y":0.13},{"s":"-0.10 V","x":400,"y":0.19},{"s":"-0.10 V","x":430,"y":0.28},{"s":"-0.10 V","x":455,"y":0.4},{"s":"-0.10 V","x":470,"y":0.44},{"s":"-0.10 V","x":485,"y":0.455},{"s":"-0.10 V","x":500,"y":0.485},{"s":"-0.10 V","x":512,"y":0.47},{"s":"-0.10 V","x":525,"y":0.44},{"s":"-0.10 V","x":535,"y":0.44},{"s":"-0.10 V","x":548,"y":0.455},{"s":"-0.10 V","x":560,"y":0.43},{"s":"-0.10 V","x":572,"y":0.33},{"s":"-0.10 V","x":582,"y":0.2},{"s":"-0.10 V","x":592,"y":0.1},{"s":"-0.10 V","x":605,"y":0.065},{"s":"-0.10 V","x":640,"y":0.05},{"s":"-0.10 V","x":700,"y":0.042},{"s":"-0.10 V","x":800,"y":0.035},{"s":"-0.10 V","x":900,"y":0.031},{"s":"-0.10 V","x":1000,"y":0.029},{"s":"-0.10 V","x":1100,"y":0.025},{"s":"-0.10 V","x":1200,"y":0.021},{"s":"-0.10 V","x":1300,"y":0.017},{"s":"-0.10 V","x":1400,"y":0.012},{"s":"-0.10 V","x":1500,"y":0.008},{"s":"-0.10 V","x":1600,"y":0.004},
{"s":"+0.41 V","x":200,"y":0.09},{"s":"+0.41 V","x":210,"y":0.08},{"s":"+0.41 V","x":220,"y":0.1},{"s":"+0.41 V","x":235,"y":0.09},{"s":"+0.41 V","x":250,"y":0.1},{"s":"+0.41 V","x":270,"y":0.095},{"s":"+0.41 V","x":300,"y":0.09},{"s":"+0.41 V","x":340,"y":0.11},{"s":"+0.41 V","x":380,"y":0.15},{"s":"+0.41 V","x":420,"y":0.22},{"s":"+0.41 V","x":450,"y":0.29},{"s":"+0.41 V","x":475,"y":0.36},{"s":"+0.41 V","x":490,"y":0.385},{"s":"+0.41 V","x":500,"y":0.392},{"s":"+0.41 V","x":515,"y":0.38},{"s":"+0.41 V","x":535,"y":0.335},{"s":"+0.41 V","x":555,"y":0.28},{"s":"+0.41 V","x":575,"y":0.22},{"s":"+0.41 V","x":600,"y":0.175},{"s":"+0.41 V","x":630,"y":0.145},{"s":"+0.41 V","x":670,"y":0.128},{"s":"+0.41 V","x":720,"y":0.115},{"s":"+0.41 V","x":760,"y":0.105},{"s":"+0.41 V","x":800,"y":0.1},{"s":"+0.41 V","x":825,"y":0.1},{"s":"+0.41 V","x":850,"y":0.088},{"s":"+0.41 V","x":900,"y":0.07},{"s":"+0.41 V","x":950,"y":0.057},{"s":"+0.41 V","x":1000,"y":0.053},{"s":"+0.41 V","x":1050,"y":0.056},{"s":"+0.41 V","x":1100,"y":0.066},{"s":"+0.41 V","x":1150,"y":0.08},{"s":"+0.41 V","x":1200,"y":0.093},{"s":"+0.41 V","x":1240,"y":0.099},{"s":"+0.41 V","x":1280,"y":0.097},{"s":"+0.41 V","x":1340,"y":0.09},{"s":"+0.41 V","x":1400,"y":0.08},{"s":"+0.41 V","x":1450,"y":0.07},{"s":"+0.41 V","x":1500,"y":0.06},{"s":"+0.41 V","x":1550,"y":0.052},{"s":"+0.41 V","x":1600,"y":0.048},
{"s":"+0.73 V","x":200,"y":0.12},{"s":"+0.73 V","x":210,"y":0.115},{"s":"+0.73 V","x":220,"y":0.12},{"s":"+0.73 V","x":240,"y":0.105},{"s":"+0.73 V","x":260,"y":0.1},{"s":"+0.73 V","x":290,"y":0.09},{"s":"+0.73 V","x":320,"y":0.09},{"s":"+0.73 V","x":360,"y":0.11},{"s":"+0.73 V","x":400,"y":0.15},{"s":"+0.73 V","x":440,"y":0.18},{"s":"+0.73 V","x":470,"y":0.195},{"s":"+0.73 V","x":500,"y":0.205},{"s":"+0.73 V","x":530,"y":0.215},{"s":"+0.73 V","x":560,"y":0.24},{"s":"+0.73 V","x":590,"y":0.265},{"s":"+0.73 V","x":620,"y":0.3},{"s":"+0.73 V","x":650,"y":0.33},{"s":"+0.73 V","x":670,"y":0.34},{"s":"+0.73 V","x":690,"y":0.335},{"s":"+0.73 V","x":720,"y":0.3},{"s":"+0.73 V","x":750,"y":0.25},{"s":"+0.73 V","x":780,"y":0.2},{"s":"+0.73 V","x":810,"y":0.16},{"s":"+0.73 V","x":850,"y":0.13},{"s":"+0.73 V","x":880,"y":0.115},{"s":"+0.73 V","x":910,"y":0.11},{"s":"+0.73 V","x":930,"y":0.113},{"s":"+0.73 V","x":960,"y":0.13},{"s":"+0.73 V","x":1000,"y":0.165},{"s":"+0.73 V","x":1050,"y":0.22},{"s":"+0.73 V","x":1100,"y":0.27},{"s":"+0.73 V","x":1150,"y":0.305},{"s":"+0.73 V","x":1200,"y":0.323},{"s":"+0.73 V","x":1240,"y":0.328},{"s":"+0.73 V","x":1280,"y":0.323},{"s":"+0.73 V","x":1320,"y":0.31},{"s":"+0.73 V","x":1360,"y":0.29},{"s":"+0.73 V","x":1400,"y":0.265},{"s":"+0.73 V","x":1450,"y":0.23},{"s":"+0.73 V","x":1500,"y":0.2},{"s":"+0.73 V","x":1550,"y":0.18},{"s":"+0.73 V","x":1600,"y":0.168},
{"s":"g0","x":200,"y":0.09},{"s":"g0","x":300,"y":0.088},{"s":"g0","x":400,"y":0.19},{"s":"g0","x":450,"y":0.35},{"s":"g0","x":500,"y":0.45},{"s":"g0","x":540,"y":0.42},{"s":"g0","x":570,"y":0.33},{"s":"g0","x":600,"y":0.12},{"s":"g0","x":650,"y":0.08},{"s":"g0","x":800,"y":0.06},{"s":"g0","x":1000,"y":0.04},{"s":"g0","x":1240,"y":0.045},{"s":"g0","x":1600,"y":0.025},
{"s":"g1","x":200,"y":0.1},{"s":"g1","x":300,"y":0.09},{"s":"g1","x":400,"y":0.17},{"s":"g1","x":450,"y":0.26},{"s":"g1","x":500,"y":0.35},{"s":"g1","x":540,"y":0.3},{"s":"g1","x":580,"y":0.24},{"s":"g1","x":620,"y":0.22},{"s":"g1","x":670,"y":0.2},{"s":"g1","x":720,"y":0.17},{"s":"g1","x":800,"y":0.12},{"s":"g1","x":850,"y":0.1},{"s":"g1","x":900,"y":0.085},{"s":"g1","x":1000,"y":0.075},{"s":"g1","x":1100,"y":0.09},{"s":"g1","x":1240,"y":0.14},{"s":"g1","x":1400,"y":0.11},{"s":"g1","x":1600,"y":0.07},
{"s":"g2","x":200,"y":0.1},{"s":"g2","x":300,"y":0.088},{"s":"g2","x":400,"y":0.165},{"s":"g2","x":450,"y":0.25},{"s":"g2","x":500,"y":0.3},{"s":"g2","x":540,"y":0.27},{"s":"g2","x":580,"y":0.24},{"s":"g2","x":620,"y":0.25},{"s":"g2","x":670,"y":0.255},{"s":"g2","x":720,"y":0.22},{"s":"g2","x":800,"y":0.15},{"s":"g2","x":850,"y":0.115},{"s":"g2","x":900,"y":0.095},{"s":"g2","x":1000,"y":0.1},{"s":"g2","x":1100,"y":0.13},{"s":"g2","x":1240,"y":0.2},{"s":"g2","x":1400,"y":0.16},{"s":"g2","x":1600,"y":0.1},
{"s":"g3","x":200,"y":0.11},{"s":"g3","x":300,"y":0.088},{"s":"g3","x":400,"y":0.16},{"s":"g3","x":450,"y":0.23},{"s":"g3","x":500,"y":0.26},{"s":"g3","x":540,"y":0.25},{"s":"g3","x":580,"y":0.25},{"s":"g3","x":620,"y":0.275},{"s":"g3","x":670,"y":0.295},{"s":"g3","x":720,"y":0.26},{"s":"g3","x":800,"y":0.17},{"s":"g3","x":850,"y":0.125},{"s":"g3","x":900,"y":0.1},{"s":"g3","x":1000,"y":0.13},{"s":"g3","x":1100,"y":0.2},{"s":"g3","x":1240,"y":0.265},{"s":"g3","x":1400,"y":0.215},{"s":"g3","x":1600,"y":0.14}
],
"d_arr":[{"x":502,"y":0.234,"x2":502,"y2":0.464,"d":"down"},{"x":670,"y":0.311,"x2":660,"y2":0.088,"d":"up"},{"x":789,"y":0.183,"x2":817,"y2":0.043,"d":"up"},{"x":1166,"y":0.288,"x2":1134,"y2":0.05,"d":"up"},{"x":1311,"y":0.288,"x2":1346,"y2":0.05,"d":"up"}],
"d_t":[{"k":"p","x":269,"y":0.569,"n":"4"},{"k":"h","x":512,"y":0.139}],
"e":[
{"s":"+0.22 V","x":200,"y":0.05},{"s":"+0.22 V","x":205,"y":0.08},{"s":"+0.22 V","x":210,"y":0.04},{"s":"+0.22 V","x":215,"y":0.09},{"s":"+0.22 V","x":220,"y":0.03},{"s":"+0.22 V","x":228,"y":0.1},{"s":"+0.22 V","x":235,"y":0.12},{"s":"+0.22 V","x":245,"y":0.14},{"s":"+0.22 V","x":255,"y":0.17},{"s":"+0.22 V","x":265,"y":0.17},{"s":"+0.22 V","x":280,"y":0.175},{"s":"+0.22 V","x":300,"y":0.17},{"s":"+0.22 V","x":315,"y":0.185},{"s":"+0.22 V","x":330,"y":0.25},{"s":"+0.22 V","x":340,"y":0.29},{"s":"+0.22 V","x":350,"y":0.29},{"s":"+0.22 V","x":370,"y":0.3},{"s":"+0.22 V","x":400,"y":0.35},{"s":"+0.22 V","x":420,"y":0.42},{"s":"+0.22 V","x":440,"y":0.48},{"s":"+0.22 V","x":455,"y":0.515},{"s":"+0.22 V","x":470,"y":0.52},{"s":"+0.22 V","x":485,"y":0.51},{"s":"+0.22 V","x":500,"y":0.47},{"s":"+0.22 V","x":515,"y":0.38},{"s":"+0.22 V","x":530,"y":0.27},{"s":"+0.22 V","x":545,"y":0.15},{"s":"+0.22 V","x":560,"y":0.06},{"s":"+0.22 V","x":575,"y":0.015},{"s":"+0.22 V","x":600,"y":0.006},{"s":"+0.22 V","x":700,"y":0.004},{"s":"+0.22 V","x":800,"y":0.0},{"s":"+0.22 V","x":900,"y":0.0},{"s":"+0.22 V","x":1000,"y":0.003},{"s":"+0.22 V","x":1100,"y":0.004},{"s":"+0.22 V","x":1200,"y":0.005},{"s":"+0.22 V","x":1300,"y":0.004},{"s":"+0.22 V","x":1400,"y":0.0},{"s":"+0.22 V","x":1500,"y":-0.004},{"s":"+0.22 V","x":1600,"y":-0.01},
{"s":"+0.53 V","x":200,"y":0.06},{"s":"+0.53 V","x":215,"y":0.1},{"s":"+0.53 V","x":230,"y":0.12},{"s":"+0.53 V","x":250,"y":0.15},{"s":"+0.53 V","x":270,"y":0.19},{"s":"+0.53 V","x":290,"y":0.22},{"s":"+0.53 V","x":320,"y":0.26},{"s":"+0.53 V","x":340,"y":0.285},{"s":"+0.53 V","x":360,"y":0.29},{"s":"+0.53 V","x":390,"y":0.31},{"s":"+0.53 V","x":420,"y":0.36},{"s":"+0.53 V","x":450,"y":0.415},{"s":"+0.53 V","x":470,"y":0.43},{"s":"+0.53 V","x":490,"y":0.41},{"s":"+0.53 V","x":510,"y":0.35},{"s":"+0.53 V","x":530,"y":0.26},{"s":"+0.53 V","x":550,"y":0.17},{"s":"+0.53 V","x":570,"y":0.11},{"s":"+0.53 V","x":600,"y":0.09},{"s":"+0.53 V","x":650,"y":0.075},{"s":"+0.53 V","x":700,"y":0.066},{"s":"+0.53 V","x":740,"y":0.068},{"s":"+0.53 V","x":765,"y":0.075},{"s":"+0.53 V","x":785,"y":0.068},{"s":"+0.53 V","x":820,"y":0.052},{"s":"+0.53 V","x":870,"y":0.045},{"s":"+0.53 V","x":950,"y":0.045},{"s":"+0.53 V","x":1000,"y":0.05},{"s":"+0.53 V","x":1100,"y":0.06},{"s":"+0.53 V","x":1200,"y":0.068},{"s":"+0.53 V","x":1240,"y":0.068},{"s":"+0.53 V","x":1280,"y":0.058},{"s":"+0.53 V","x":1350,"y":0.045},{"s":"+0.53 V","x":1400,"y":0.035},{"s":"+0.53 V","x":1500,"y":0.022},{"s":"+0.53 V","x":1600,"y":0.01},
{"s":"+0.80 V","x":200,"y":0.17},{"s":"+0.80 V","x":205,"y":0.2},{"s":"+0.80 V","x":210,"y":0.15},{"s":"+0.80 V","x":215,"y":0.22},{"s":"+0.80 V","x":220,"y":0.18},{"s":"+0.80 V","x":230,"y":0.21},{"s":"+0.80 V","x":240,"y":0.19},{"s":"+0.80 V","x":250,"y":0.21},{"s":"+0.80 V","x":270,"y":0.22},{"s":"+0.80 V","x":300,"y":0.24},{"s":"+0.80 V","x":320,"y":0.26},{"s":"+0.80 V","x":345,"y":0.29},{"s":"+0.80 V","x":370,"y":0.28},{"s":"+0.80 V","x":400,"y":0.24},{"s":"+0.80 V","x":430,"y":0.19},{"s":"+0.80 V","x":455,"y":0.155},{"s":"+0.80 V","x":475,"y":0.155},{"s":"+0.80 V","x":500,"y":0.175},{"s":"+0.80 V","x":530,"y":0.22},{"s":"+0.80 V","x":560,"y":0.28},{"s":"+0.80 V","x":590,"y":0.34},{"s":"+0.80 V","x":620,"y":0.38},{"s":"+0.80 V","x":645,"y":0.39},{"s":"+0.80 V","x":670,"y":0.38},{"s":"+0.80 V","x":700,"y":0.345},{"s":"+0.80 V","x":730,"y":0.31},{"s":"+0.80 V","x":750,"y":0.27},{"s":"+0.80 V","x":775,"y":0.18},{"s":"+0.80 V","x":800,"y":0.11},{"s":"+0.80 V","x":830,"y":0.08},{"s":"+0.80 V","x":860,"y":0.082},{"s":"+0.80 V","x":900,"y":0.11},{"s":"+0.80 V","x":950,"y":0.165},{"s":"+0.80 V","x":1000,"y":0.215},{"s":"+0.80 V","x":1040,"y":0.24},{"s":"+0.80 V","x":1070,"y":0.235},{"s":"+0.80 V","x":1100,"y":0.22},{"s":"+0.80 V","x":1150,"y":0.195},{"s":"+0.80 V","x":1200,"y":0.18},{"s":"+0.80 V","x":1250,"y":0.18},{"s":"+0.80 V","x":1300,"y":0.172},{"s":"+0.80 V","x":1350,"y":0.16},{"s":"+0.80 V","x":1400,"y":0.148},{"s":"+0.80 V","x":1450,"y":0.13},{"s":"+0.80 V","x":1500,"y":0.115},{"s":"+0.80 V","x":1550,"y":0.1},{"s":"+0.80 V","x":1600,"y":0.083},
{"s":"g1","x":200,"y":0.1},{"s":"g1","x":300,"y":0.2},{"s":"g1","x":350,"y":0.29},{"s":"g1","x":400,"y":0.32},{"s":"g1","x":460,"y":0.4},{"s":"g1","x":500,"y":0.37},{"s":"g1","x":540,"y":0.24},{"s":"g1","x":580,"y":0.15},{"s":"g1","x":640,"y":0.14},{"s":"g1","x":700,"y":0.12},{"s":"g1","x":750,"y":0.1},{"s":"g1","x":800,"y":0.07},{"s":"g1","x":900,"y":0.06},{"s":"g1","x":1050,"y":0.08},{"s":"g1","x":1200,"y":0.085},{"s":"g1","x":1400,"y":0.06},{"s":"g1","x":1600,"y":0.03},
{"s":"g2","x":200,"y":0.12},{"s":"g2","x":300,"y":0.21},{"s":"g2","x":350,"y":0.29},{"s":"g2","x":400,"y":0.3},{"s":"g2","x":460,"y":0.34},{"s":"g2","x":500,"y":0.32},{"s":"g2","x":540,"y":0.26},{"s":"g2","x":580,"y":0.21},{"s":"g2","x":640,"y":0.21},{"s":"g2","x":700,"y":0.18},{"s":"g2","x":750,"y":0.14},{"s":"g2","x":800,"y":0.08},{"s":"g2","x":900,"y":0.07},{"s":"g2","x":1050,"y":0.11},{"s":"g2","x":1200,"y":0.11},{"s":"g2","x":1400,"y":0.08},{"s":"g2","x":1600,"y":0.045},
{"s":"g3","x":200,"y":0.14},{"s":"g3","x":300,"y":0.22},{"s":"g3","x":350,"y":0.29},{"s":"g3","x":400,"y":0.28},{"s":"g3","x":460,"y":0.28},{"s":"g3","x":500,"y":0.27},{"s":"g3","x":540,"y":0.26},{"s":"g3","x":580,"y":0.26},{"s":"g3","x":640,"y":0.28},{"s":"g3","x":700,"y":0.25},{"s":"g3","x":750,"y":0.2},{"s":"g3","x":800,"y":0.09},{"s":"g3","x":900,"y":0.085},{"s":"g3","x":1050,"y":0.15},{"s":"g3","x":1200,"y":0.135},{"s":"g3","x":1400,"y":0.105},{"s":"g3","x":1600,"y":0.055},
{"s":"g4","x":200,"y":0.16},{"s":"g4","x":300,"y":0.235},{"s":"g4","x":350,"y":0.29},{"s":"g4","x":400,"y":0.26},{"s":"g4","x":460,"y":0.22},{"s":"g4","x":500,"y":0.22},{"s":"g4","x":540,"y":0.25},{"s":"g4","x":580,"y":0.3},{"s":"g4","x":640,"y":0.33},{"s":"g4","x":700,"y":0.3},{"s":"g4","x":750,"y":0.24},{"s":"g4","x":800,"y":0.1},{"s":"g4","x":900,"y":0.095},{"s":"g4","x":1050,"y":0.19},{"s":"g4","x":1200,"y":0.155},{"s":"g4","x":1400,"y":0.125},{"s":"g4","x":1600,"y":0.07}
],
"e_arr":[{"x":456,"y":0.188,"x2":456,"y2":0.497,"d":"down"},{"x":632,"y":0.342,"x2":611,"y2":0.046,"d":"up"},{"x":725,"y":0.265,"x2":764,"y2":0.033,"d":"up"},{"x":1056,"y":0.22,"x2":1103,"y2":0.021,"d":"up"},{"x":1251,"y":0.156,"x2":1215,"y2":0.046,"d":"up"}],
"e_t":[{"k":"p","x":270,"y":0.574,"n":"5"},{"k":"h","x":471,"y":0.124}],
"f":[
{"s":"+0.34 V","x":200,"y":0.1},{"s":"+0.34 V","x":210,"y":0.12},{"s":"+0.34 V","x":220,"y":0.14},{"s":"+0.34 V","x":240,"y":0.19},{"s":"+0.34 V","x":260,"y":0.25},{"s":"+0.34 V","x":275,"y":0.28},{"s":"+0.34 V","x":290,"y":0.28},{"s":"+0.34 V","x":310,"y":0.29},{"s":"+0.34 V","x":330,"y":0.33},{"s":"+0.34 V","x":360,"y":0.37},{"s":"+0.34 V","x":380,"y":0.4},{"s":"+0.34 V","x":400,"y":0.46},{"s":"+0.34 V","x":420,"y":0.56},{"s":"+0.34 V","x":435,"y":0.63},{"s":"+0.34 V","x":445,"y":0.655},{"s":"+0.34 V","x":460,"y":0.64},{"s":"+0.34 V","x":475,"y":0.6},{"s":"+0.34 V","x":490,"y":0.53},{"s":"+0.34 V","x":505,"y":0.45},{"s":"+0.34 V","x":520,"y":0.35},{"s":"+0.34 V","x":535,"y":0.24},{"s":"+0.34 V","x":550,"y":0.12},{"s":"+0.34 V","x":565,"y":0.04},{"s":"+0.34 V","x":580,"y":0.015},{"s":"+0.34 V","x":620,"y":0.01},{"s":"+0.34 V","x":700,"y":0.008},{"s":"+0.34 V","x":800,"y":0.005},{"s":"+0.34 V","x":900,"y":0.004},{"s":"+0.34 V","x":1000,"y":0.005},{"s":"+0.34 V","x":1100,"y":0.008},{"s":"+0.34 V","x":1200,"y":0.01},{"s":"+0.34 V","x":1300,"y":0.005},{"s":"+0.34 V","x":1400,"y":0.0},{"s":"+0.34 V","x":1500,"y":0.0},{"s":"+0.34 V","x":1600,"y":-0.005},
{"s":"+0.65 V","x":200,"y":0.06},{"s":"+0.65 V","x":210,"y":0.08},{"s":"+0.65 V","x":220,"y":0.1},{"s":"+0.65 V","x":240,"y":0.16},{"s":"+0.65 V","x":260,"y":0.24},{"s":"+0.65 V","x":275,"y":0.28},{"s":"+0.65 V","x":290,"y":0.28},{"s":"+0.65 V","x":310,"y":0.29},{"s":"+0.65 V","x":330,"y":0.32},{"s":"+0.65 V","x":360,"y":0.36},{"s":"+0.65 V","x":380,"y":0.39},{"s":"+0.65 V","x":400,"y":0.44},{"s":"+0.65 V","x":420,"y":0.53},{"s":"+0.65 V","x":435,"y":0.6},{"s":"+0.65 V","x":445,"y":0.625},{"s":"+0.65 V","x":460,"y":0.61},{"s":"+0.65 V","x":475,"y":0.57},{"s":"+0.65 V","x":490,"y":0.51},{"s":"+0.65 V","x":505,"y":0.43},{"s":"+0.65 V","x":520,"y":0.34},{"s":"+0.65 V","x":535,"y":0.24},{"s":"+0.65 V","x":550,"y":0.15},{"s":"+0.65 V","x":565,"y":0.09},{"s":"+0.65 V","x":580,"y":0.055},{"s":"+0.65 V","x":600,"y":0.04},{"s":"+0.65 V","x":650,"y":0.03},{"s":"+0.65 V","x":700,"y":0.032},{"s":"+0.65 V","x":725,"y":0.036},{"s":"+0.65 V","x":760,"y":0.027},{"s":"+0.65 V","x":800,"y":0.017},{"s":"+0.65 V","x":900,"y":0.01},{"s":"+0.65 V","x":1000,"y":0.01},{"s":"+0.65 V","x":1100,"y":0.014},{"s":"+0.65 V","x":1200,"y":0.018},{"s":"+0.65 V","x":1300,"y":0.01},{"s":"+0.65 V","x":1400,"y":0.0},{"s":"+0.65 V","x":1500,"y":-0.002},{"s":"+0.65 V","x":1600,"y":-0.005},
{"s":"+0.82 V","x":200,"y":0.17},{"s":"+0.82 V","x":205,"y":0.12},{"s":"+0.82 V","x":210,"y":0.2},{"s":"+0.82 V","x":215,"y":0.14},{"s":"+0.82 V","x":222,"y":0.2},{"s":"+0.82 V","x":230,"y":0.16},{"s":"+0.82 V","x":240,"y":0.2},{"s":"+0.82 V","x":260,"y":0.25},{"s":"+0.82 V","x":280,"y":0.285},{"s":"+0.82 V","x":300,"y":0.29},{"s":"+0.82 V","x":330,"y":0.34},{"s":"+0.82 V","x":360,"y":0.37},{"s":"+0.82 V","x":380,"y":0.39},{"s":"+0.82 V","x":395,"y":0.41},{"s":"+0.82 V","x":410,"y":0.395},{"s":"+0.82 V","x":430,"y":0.34},{"s":"+0.82 V","x":450,"y":0.29},{"s":"+0.82 V","x":475,"y":0.24},{"s":"+0.82 V","x":500,"y":0.23},{"s":"+0.82 V","x":520,"y":0.24},{"s":"+0.82 V","x":545,"y":0.3},{"s":"+0.82 V","x":575,"y":0.39},{"s":"+0.82 V","x":600,"y":0.44},{"s":"+0.82 V","x":630,"y":0.47},{"s":"+0.82 V","x":660,"y":0.46},{"s":"+0.82 V","x":690,"y":0.42},{"s":"+0.82 V","x":720,"y":0.38},{"s":"+0.82 V","x":740,"y":0.33},{"s":"+0.82 V","x":760,"y":0.24},{"s":"+0.82 V","x":785,"y":0.14},{"s":"+0.82 V","x":810,"y":0.105},{"s":"+0.82 V","x":840,"y":0.1},{"s":"+0.82 V","x":880,"y":0.125},{"s":"+0.82 V","x":920,"y":0.17},{"s":"+0.82 V","x":960,"y":0.21},{"s":"+0.82 V","x":1000,"y":0.228},{"s":"+0.82 V","x":1030,"y":0.22},{"s":"+0.82 V","x":1070,"y":0.195},{"s":"+0.82 V","x":1110,"y":0.18},{"s":"+0.82 V","x":1160,"y":0.182},{"s":"+0.82 V","x":1200,"y":0.185},{"s":"+0.82 V","x":1240,"y":0.178},{"s":"+0.82 V","x":1290,"y":0.155},{"s":"+0.82 V","x":1340,"y":0.12},{"s":"+0.82 V","x":1380,"y":0.095},{"s":"+0.82 V","x":1420,"y":0.08},{"s":"+0.82 V","x":1480,"y":0.072},{"s":"+0.82 V","x":1540,"y":0.065},{"s":"+0.82 V","x":1600,"y":0.055},
{"s":"g1","x":200,"y":0.08},{"s":"g1","x":260,"y":0.24},{"s":"g1","x":300,"y":0.29},{"s":"g1","x":360,"y":0.37},{"s":"g1","x":400,"y":0.46},{"s":"g1","x":440,"y":0.6},{"s":"g1","x":480,"y":0.55},{"s":"g1","x":520,"y":0.35},{"s":"g1","x":560,"y":0.15},{"s":"g1","x":600,"y":0.13},{"s":"g1","x":640,"y":0.15},{"s":"g1","x":700,"y":0.14},{"s":"g1","x":760,"y":0.1},{"s":"g1","x":800,"y":0.05},{"s":"g1","x":900,"y":0.04},{"s":"g1","x":1000,"y":0.06},{"s":"g1","x":1200,"y":0.06},{"s":"g1","x":1400,"y":0.035},{"s":"g1","x":1600,"y":0.015},
{"s":"g2","x":200,"y":0.1},{"s":"g2","x":260,"y":0.245},{"s":"g2","x":300,"y":0.29},{"s":"g2","x":360,"y":0.37},{"s":"g2","x":400,"y":0.45},{"s":"g2","x":435,"y":0.55},{"s":"g2","x":480,"y":0.5},{"s":"g2","x":520,"y":0.33},{"s":"g2","x":560,"y":0.22},{"s":"g2","x":600,"y":0.25},{"s":"g2","x":640,"y":0.27},{"s":"g2","x":700,"y":0.24},{"s":"g2","x":760,"y":0.16},{"s":"g2","x":800,"y":0.07},{"s":"g2","x":900,"y":0.065},{"s":"g2","x":1000,"y":0.1},{"s":"g2","x":1200,"y":0.095},{"s":"g2","x":1400,"y":0.05},{"s":"g2","x":1600,"y":0.025},
{"s":"g3","x":200,"y":0.13},{"s":"g3","x":260,"y":0.25},{"s":"g3","x":300,"y":0.29},{"s":"g3","x":360,"y":0.37},{"s":"g3","x":400,"y":0.44},{"s":"g3","x":430,"y":0.48},{"s":"g3","x":470,"y":0.43},{"s":"g3","x":510,"y":0.3},{"s":"g3","x":550,"y":0.28},{"s":"g3","x":600,"y":0.35},{"s":"g3","x":640,"y":0.38},{"s":"g3","x":700,"y":0.33},{"s":"g3","x":760,"y":0.2},{"s":"g3","x":800,"y":0.085},{"s":"g3","x":900,"y":0.09},{"s":"g3","x":1000,"y":0.15},{"s":"g3","x":1200,"y":0.135},{"s":"g3","x":1400,"y":0.065},{"s":"g3","x":1600,"y":0.035},
{"s":"g4","x":200,"y":0.15},{"s":"g4","x":260,"y":0.25},{"s":"g4","x":300,"y":0.29},{"s":"g4","x":360,"y":0.37},{"s":"g4","x":400,"y":0.42},{"s":"g4","x":420,"y":0.43},{"s":"g4","x":460,"y":0.34},{"s":"g4","x":500,"y":0.26},{"s":"g4","x":550,"y":0.31},{"s":"g4","x":600,"y":0.42},{"s":"g4","x":640,"y":0.44},{"s":"g4","x":700,"y":0.39},{"s":"g4","x":760,"y":0.23},{"s":"g4","x":800,"y":0.095},{"s":"g4","x":900,"y":0.11},{"s":"g4","x":1000,"y":0.19},{"s":"g4","x":1200,"y":0.16},{"s":"g4","x":1400,"y":0.08},{"s":"g4","x":1600,"y":0.045}
],
"f_arr":[{"x":405,"y":0.424,"x2":433,"y2":0.578,"d":"down"},{"x":634,"y":0.431,"x2":612,"y2":0.027,"d":"up"},{"x":708,"y":0.327,"x2":729,"y2":0.027,"d":"up"},{"x":997,"y":0.194,"x2":997,"y2":0.018,"d":"up"},{"x":1188,"y":0.152,"x2":1173,"y2":0.027,"d":"up"}],
"f_t":[{"k":"p","x":268,"y":0.758,"n":"6"},{"k":"h","x":385,"y":0.286}]
},
"columns":3,
"spacing":{"row":43,"column":53},
"bounds":"flush",
"resolve":{"scale":{"color":"independent","shape":"independent","x":"independent","y":"independent"},"legend":{"color":"independent","shape":"independent"}},
"concat":[
{"width":216,"height":158,"title":{"text":"a)"},
"encoding":{"x":{"field":"x","type":"quantitative","scale":{"domain":[200,1600],"nice":false,"zero":false},"axis":{"title":"Wavelength - λ / nm","values":[200,300,400,500,600,700,800,900,1000,1100,1200,1300,1400,1500,1600],"format":"d","labelExpr":"datum.value % 200 === 0 ? datum.label : ''","grid":true,"gridDash":[1,1.5],"gridColor":"#b4bcc6","gridWidth":0.8,"gridOpacity":{"condition":{"test":"datum.value % 200 === 0 && datum.value > 200 && datum.value < 1600","value":1},"value":0},"tickSize":{"condition":{"test":"datum.value % 200 === 0","value":3},"value":1.5}}},
"y":{"field":"y","type":"quantitative","scale":{"domain":[-0.03,0.36],"nice":false,"zero":false},"axis":{"title":"Absorbance","values":[-0.02,0,0.02,0.04,0.06,0.08,0.1,0.12,0.14,0.16,0.18,0.2,0.22,0.24,0.26,0.28,0.3,0.32,0.34,0.36],"labelExpr":"abs(round(datum.value*100)) % 4 === 0 ? format(datum.value, '.2f') : ''","tickSize":{"condition":{"test":"abs(round(datum.value*100)) % 4 === 0","value":3},"value":1.5}}}},
"layer":[
{"data":{"name":"a"},"transform":[{"filter":"substring(datum.s,0,1)==='g'"}],"mark":{"type":"line","strokeWidth":0.9,"color":"#c6d2cb"},"encoding":{"detail":{"field":"s"}}},
{"data":{"name":"a"},"transform":[{"filter":"substring(datum.s,0,1)==='b'"}],"mark":{"type":"line","strokeWidth":0.9,"color":"#c3c9da"},"encoding":{"detail":{"field":"s"}}},
{"data":{"name":"a"},"transform":[{"filter":"length(datum.s) > 2"}],"mark":{"type":"line","strokeWidth":1.2},"encoding":{"color":{"field":"s","type":"nominal","scale":{"domain":["-0.64 V","-0.01 V","+0.52 V","+0.83 V"],"range":["#111111","#ff6b1c","#22a32a","#ff1a1a"]},"legend":{"title":null,"orient":"none","legendX":73.7,"legendY":11.2}}}},
{"data":{"name":"a_arr"},"mark":{"type":"rule","strokeDash":[1.2,1.5],"strokeWidth":1,"color":"#222"},"encoding":{"x2":{"field":"x2"},"y2":{"field":"y2"}}},
{"data":{"name":"a_arr"},"mark":{"type":"point","filled":true,"color":"#111","size":14,"opacity":1},"encoding":{"shape":{"field":"d","type":"nominal","scale":{"domain":["up","down"],"range":["triangle-up","triangle-down"]},"legend":null}}},
{"data":{"name":"a_t"},"transform":[{"filter":"datum.k==='p'"}],"mark":{"type":"text","align":"left","baseline":"middle","fontSize":8.5,"color":"#222"},"encoding":{"text":{"value":"poly("}}},
{"data":{"name":"a_t"},"transform":[{"filter":"datum.k==='p'"}],"mark":{"type":"text","align":"left","baseline":"middle","fontSize":8.5,"fontWeight":"bold","dx":18.4,"color":"#222"},"encoding":{"text":{"field":"n"}}},
{"data":{"name":"a_t"},"transform":[{"filter":"datum.k==='p'"}],"mark":{"type":"text","align":"left","baseline":"middle","fontSize":8.5,"dx":23.1,"color":"#222"},"encoding":{"text":{"value":")"}}},
{"data":{"name":"a_t"},"transform":[{"filter":"datum.k==='h'"}],"mark":{"type":"text","align":"center","baseline":"middle","fontSize":7,"fontWeight":"bold","color":"#222"},"encoding":{"text":{"value":"H-L"}}}
]},
{"width":217,"height":158,"title":{"text":"b)"},
"encoding":{"x":{"field":"x","type":"quantitative","scale":{"domain":[200,1600],"nice":false,"zero":false},"axis":{"title":"Wavelength - λ / nm","values":[200,300,400,500,600,700,800,900,1000,1100,1200,1300,1400,1500,1600],"format":"d","labelExpr":"datum.value % 200 === 0 ? datum.label : ''","grid":true,"gridDash":[1,1.5],"gridColor":"#b4bcc6","gridWidth":0.8,"gridOpacity":{"condition":{"test":"datum.value % 200 === 0 && datum.value > 200 && datum.value < 1600","value":1},"value":0},"tickSize":{"condition":{"test":"datum.value % 200 === 0","value":3},"value":1.5}}},
"y":{"field":"y","type":"quantitative","scale":{"domain":[-0.02,0.32],"nice":false,"zero":false},"axis":{"title":"Absorbance","values":[-0.02,0,0.02,0.04,0.06,0.08,0.1,0.12,0.14,0.16,0.18,0.2,0.22,0.24,0.26,0.28,0.3,0.32],"labelExpr":"abs(round(datum.value*100)) % 4 === 0 ? format(datum.value, '.2f') : ''","tickSize":{"condition":{"test":"abs(round(datum.value*100)) % 4 === 0","value":3},"value":1.5}}}},
"layer":[
{"data":{"name":"b"},"transform":[{"filter":"substring(datum.s,0,1)==='g'"}],"mark":{"type":"line","strokeWidth":0.9,"color":"#c6d2cb"},"encoding":{"detail":{"field":"s"}}},
{"data":{"name":"b"},"transform":[{"filter":"substring(datum.s,0,1)==='b'"}],"mark":{"type":"line","strokeWidth":0.9,"color":"#c3c9da"},"encoding":{"detail":{"field":"s"}}},
{"data":{"name":"b"},"transform":[{"filter":"length(datum.s) > 2"}],"mark":{"type":"line","strokeWidth":1.2},"encoding":{"color":{"field":"s","type":"nominal","scale":{"domain":["-0.40 V","+0.34 V","+0.64 V","+0.89 V"],"range":["#111111","#ff6b1c","#22a32a","#ff1a1a"]},"legend":{"title":null,"orient":"none","legendX":90.6,"legendY":11.2}}}},
{"data":{"name":"b_arr"},"mark":{"type":"rule","strokeDash":[1.2,1.5],"strokeWidth":1,"color":"#222"},"encoding":{"x2":{"field":"x2"},"y2":{"field":"y2"}}},
{"data":{"name":"b_arr"},"mark":{"type":"point","filled":true,"color":"#111","size":14,"opacity":1},"encoding":{"shape":{"field":"d","type":"nominal","scale":{"domain":["up","down"],"range":["triangle-up","triangle-down"]},"legend":null}}},
{"data":{"name":"b_t"},"transform":[{"filter":"datum.k==='p'"}],"mark":{"type":"text","align":"left","baseline":"middle","fontSize":8.5,"color":"#222"},"encoding":{"text":{"value":"poly("}}},
{"data":{"name":"b_t"},"transform":[{"filter":"datum.k==='p'"}],"mark":{"type":"text","align":"left","baseline":"middle","fontSize":8.5,"fontWeight":"bold","dx":18.4,"color":"#222"},"encoding":{"text":{"field":"n"}}},
{"data":{"name":"b_t"},"transform":[{"filter":"datum.k==='p'"}],"mark":{"type":"text","align":"left","baseline":"middle","fontSize":8.5,"dx":23.1,"color":"#222"},"encoding":{"text":{"value":")"}}},
{"data":{"name":"b_t"},"transform":[{"filter":"datum.k==='h'"}],"mark":{"type":"text","align":"center","baseline":"middle","fontSize":7,"fontWeight":"bold","color":"#222"},"encoding":{"text":{"value":"H-L"}}}
]},
{"width":219,"height":158,"title":{"text":"c)"},
"encoding":{"x":{"field":"x","type":"quantitative","scale":{"domain":[200,1600],"nice":false,"zero":false},"axis":{"title":"Wavelength - λ / nm","values":[200,300,400,500,600,700,800,900,1000,1100,1200,1300,1400,1500,1600],"format":"d","labelExpr":"datum.value % 200 === 0 ? datum.label : ''","grid":true,"gridDash":[1,1.5],"gridColor":"#b4bcc6","gridWidth":0.8,"gridOpacity":{"condition":{"test":"datum.value % 200 === 0 && datum.value > 200 && datum.value < 1600","value":1},"value":0},"tickSize":{"condition":{"test":"datum.value % 200 === 0","value":3},"value":1.5}}},
"y":{"field":"y","type":"quantitative","scale":{"domain":[-0.02,0.32],"nice":false,"zero":false},"axis":{"title":"Absorbance","values":[-0.02,0,0.02,0.04,0.06,0.08,0.1,0.12,0.14,0.16,0.18,0.2,0.22,0.24,0.26,0.28,0.3,0.32],"labelExpr":"abs(round(datum.value*100)) % 4 === 0 ? format(datum.value, '.2f') : ''","tickSize":{"condition":{"test":"abs(round(datum.value*100)) % 4 === 0","value":3},"value":1.5}}}},
"layer":[
{"data":{"name":"c"},"transform":[{"filter":"substring(datum.s,0,1)==='g'"}],"mark":{"type":"line","strokeWidth":0.9,"color":"#c6d2cb"},"encoding":{"detail":{"field":"s"}}},
{"data":{"name":"c"},"transform":[{"filter":"substring(datum.s,0,1)==='b'"}],"mark":{"type":"line","strokeWidth":0.9,"color":"#c3c9da"},"encoding":{"detail":{"field":"s"}}},
{"data":{"name":"c"},"transform":[{"filter":"length(datum.s) > 2"}],"mark":{"type":"line","strokeWidth":1.2},"encoding":{"color":{"field":"s","type":"nominal","scale":{"domain":["-0.22 V","+0.26 V","+0.56 V","+1.04 V"],"range":["#111111","#ff6b1c","#22a32a","#ff1a1a"]},"legend":{"title":null,"orient":"none","legendX":73.7,"legendY":9}}}},
{"data":{"name":"c_arr"},"mark":{"type":"rule","strokeDash":[1.2,1.5],"strokeWidth":1,"color":"#222"},"encoding":{"x2":{"field":"x2"},"y2":{"field":"y2"}}},
{"data":{"name":"c_arr"},"mark":{"type":"point","filled":true,"color":"#111","size":14,"opacity":1},"encoding":{"shape":{"field":"d","type":"nominal","scale":{"domain":["up","down"],"range":["triangle-up","triangle-down"]},"legend":null}}},
{"data":{"name":"c_t"},"transform":[{"filter":"datum.k==='p'"}],"mark":{"type":"text","align":"left","baseline":"middle","fontSize":8.5,"color":"#222"},"encoding":{"text":{"value":"poly("}}},
{"data":{"name":"c_t"},"transform":[{"filter":"datum.k==='p'"}],"mark":{"type":"text","align":"left","baseline":"middle","fontSize":8.5,"fontWeight":"bold","dx":18.4,"color":"#222"},"encoding":{"text":{"field":"n"}}},
{"data":{"name":"c_t"},"transform":[{"filter":"datum.k==='p'"}],"mark":{"type":"text","align":"left","baseline":"middle","fontSize":8.5,"dx":23.1,"color":"#222"},"encoding":{"text":{"value":")"}}},
{"data":{"name":"c_t"},"transform":[{"filter":"datum.k==='h'"}],"mark":{"type":"text","align":"center","baseline":"middle","fontSize":7,"fontWeight":"bold","color":"#222"},"encoding":{"text":{"value":"H-L"}}}
]},
{"width":216,"height":162.7,"title":{"text":"d)"},
"encoding":{"x":{"field":"x","type":"quantitative","scale":{"domain":[200,1600],"nice":false,"zero":false},"axis":{"title":"Wavelength - λ / nm","values":[200,300,400,500,600,700,800,900,1000,1100,1200,1300,1400,1500,1600],"format":"d","labelExpr":"datum.value % 200 === 0 ? datum.label : ''","grid":true,"gridDash":[1,1.5],"gridColor":"#b4bcc6","gridWidth":0.8,"gridOpacity":{"condition":{"test":"datum.value % 200 === 0 && datum.value > 200 && datum.value < 1600","value":1},"value":0},"tickSize":{"condition":{"test":"datum.value % 200 === 0","value":3},"value":1.5}}},
"y":{"field":"y","type":"quantitative","scale":{"domain":[-0.02,0.6],"nice":false,"zero":false},"axis":{"title":"Absorbance","values":[0,0.05,0.1,0.15,0.2,0.25,0.3,0.35,0.4,0.45,0.5,0.55,0.6],"labelExpr":"round(datum.value*100) % 10 === 0 ? format(datum.value, '.2f') : ''","tickSize":{"condition":{"test":"round(datum.value*100) % 10 === 0","value":3},"value":1.5}}}},
"layer":[
{"data":{"name":"d"},"transform":[{"filter":"substring(datum.s,0,1)==='g'"}],"mark":{"type":"line","strokeWidth":0.9,"color":"#c6d2cb"},"encoding":{"detail":{"field":"s"}}},
{"data":{"name":"d"},"transform":[{"filter":"length(datum.s) > 2"}],"mark":{"type":"line","strokeWidth":1.2},"encoding":{"color":{"field":"s","type":"nominal","scale":{"domain":["-0.10 V","+0.41 V","+0.73 V"],"range":["#111111","#ff6b1c","#22a32a"]},"legend":{"title":null,"orient":"none","legendX":90.4,"legendY":12.6}}}},
{"data":{"name":"d_arr"},"mark":{"type":"rule","strokeDash":[1.2,1.5],"strokeWidth":1,"color":"#222"},"encoding":{"x2":{"field":"x2"},"y2":{"field":"y2"}}},
{"data":{"name":"d_arr"},"mark":{"type":"point","filled":true,"color":"#111","size":14,"opacity":1},"encoding":{"shape":{"field":"d","type":"nominal","scale":{"domain":["up","down"],"range":["triangle-up","triangle-down"]},"legend":null}}},
{"data":{"name":"d_t"},"transform":[{"filter":"datum.k==='p'"}],"mark":{"type":"text","align":"left","baseline":"middle","fontSize":8.5,"color":"#222"},"encoding":{"text":{"value":"poly("}}},
{"data":{"name":"d_t"},"transform":[{"filter":"datum.k==='p'"}],"mark":{"type":"text","align":"left","baseline":"middle","fontSize":8.5,"fontWeight":"bold","dx":18.4,"color":"#222"},"encoding":{"text":{"field":"n"}}},
{"data":{"name":"d_t"},"transform":[{"filter":"datum.k==='p'"}],"mark":{"type":"text","align":"left","baseline":"middle","fontSize":8.5,"dx":23.1,"color":"#222"},"encoding":{"text":{"value":")"}}},
{"data":{"name":"d_t"},"transform":[{"filter":"datum.k==='h'"}],"mark":{"type":"text","align":"center","baseline":"middle","fontSize":7,"fontWeight":"bold","color":"#222"},"encoding":{"text":{"value":"H-L"}}}
]},
{"width":217,"height":162.7,"title":{"text":"e)"},
"encoding":{"x":{"field":"x","type":"quantitative","scale":{"domain":[200,1600],"nice":false,"zero":false},"axis":{"title":"Wavelength - λ / nm","values":[200,300,400,500,600,700,800,900,1000,1100,1200,1300,1400,1500,1600],"format":"d","labelExpr":"datum.value % 200 === 0 ? datum.label : ''","grid":true,"gridDash":[1,1.5],"gridColor":"#b4bcc6","gridWidth":0.8,"gridOpacity":{"condition":{"test":"datum.value % 200 === 0 && datum.value > 200 && datum.value < 1600","value":1},"value":0},"tickSize":{"condition":{"test":"datum.value % 200 === 0","value":3},"value":1.5}}},
"y":{"field":"y","type":"quantitative","scale":{"domain":[-0.03,0.6],"nice":false,"zero":false},"axis":{"title":"Absorbance","values":[0,0.05,0.1,0.15,0.2,0.25,0.3,0.35,0.4,0.45,0.5,0.55,0.6],"labelExpr":"round(datum.value*100) % 10 === 0 ? format(datum.value, '.1f') : ''","tickSize":{"condition":{"test":"round(datum.value*100) % 10 === 0","value":3},"value":1.5}}}},
"layer":[
{"data":{"name":"e"},"transform":[{"filter":"substring(datum.s,0,1)==='g'"}],"mark":{"type":"line","strokeWidth":0.9,"color":"#c6d2cb"},"encoding":{"detail":{"field":"s"}}},
{"data":{"name":"e"},"transform":[{"filter":"length(datum.s) > 2"}],"mark":{"type":"line","strokeWidth":1.2},"encoding":{"color":{"field":"s","type":"nominal","scale":{"domain":["+0.22 V","+0.53 V","+0.80 V"],"range":["#111111","#ff6b1c","#22a32a"]},"legend":{"title":null,"orient":"none","legendX":90.6,"legendY":11}}}},
{"data":{"name":"e_arr"},"mark":{"type":"rule","strokeDash":[1.2,1.5],"strokeWidth":1,"color":"#222"},"encoding":{"x2":{"field":"x2"},"y2":{"field":"y2"}}},
{"data":{"name":"e_arr"},"mark":{"type":"point","filled":true,"color":"#111","size":14,"opacity":1},"encoding":{"shape":{"field":"d","type":"nominal","scale":{"domain":["up","down"],"range":["triangle-up","triangle-down"]},"legend":null}}},
{"data":{"name":"e_t"},"transform":[{"filter":"datum.k==='p'"}],"mark":{"type":"text","align":"left","baseline":"middle","fontSize":8.5,"color":"#222"},"encoding":{"text":{"value":"poly("}}},
{"data":{"name":"e_t"},"transform":[{"filter":"datum.k==='p'"}],"mark":{"type":"text","align":"left","baseline":"middle","fontSize":8.5,"fontWeight":"bold","dx":18.4,"color":"#222"},"encoding":{"text":{"field":"n"}}},
{"data":{"name":"e_t"},"transform":[{"filter":"datum.k==='p'"}],"mark":{"type":"text","align":"left","baseline":"middle","fontSize":8.5,"dx":23.1,"color":"#222"},"encoding":{"text":{"value":")"}}},
{"data":{"name":"e_t"},"transform":[{"filter":"datum.k==='h'"}],"mark":{"type":"text","align":"center","baseline":"middle","fontSize":7,"fontWeight":"bold","color":"#222"},"encoding":{"text":{"value":"H-L"}}}
]},
{"width":219,"height":162.7,"title":{"text":"f)"},
"encoding":{"x":{"field":"x","type":"quantitative","scale":{"domain":[200,1600],"nice":false,"zero":false},"axis":{"title":"Wavelength - λ / nm","values":[200,300,400,500,600,700,800,900,1000,1100,1200,1300,1400,1500,1600],"format":"d","labelExpr":"datum.value % 200 === 0 ? datum.label : ''","grid":true,"gridDash":[1,1.5],"gridColor":"#b4bcc6","gridWidth":0.8,"gridOpacity":{"condition":{"test":"datum.value % 200 === 0 && datum.value > 200 && datum.value < 1600","value":1},"value":0},"tickSize":{"condition":{"test":"datum.value % 200 === 0","value":3},"value":1.5}}},
"y":{"field":"y","type":"quantitative","scale":{"domain":[-0.02,0.8],"nice":false,"zero":false},"axis":{"title":"Absorbance","values":[0,0.05,0.1,0.15,0.2,0.25,0.3,0.35,0.4,0.45,0.5,0.55,0.6,0.65,0.7,0.75,0.8],"labelExpr":"round(datum.value*100) % 10 === 0 ? format(datum.value, '.1f') : ''","tickSize":{"condition":{"test":"round(datum.value*100) % 10 === 0","value":3},"value":1.5}}}},
"layer":[
{"data":{"name":"f"},"transform":[{"filter":"substring(datum.s,0,1)==='g'"}],"mark":{"type":"line","strokeWidth":0.9,"color":"#c6d2cb"},"encoding":{"detail":{"field":"s"}}},
{"data":{"name":"f"},"transform":[{"filter":"length(datum.s) > 2"}],"mark":{"type":"line","strokeWidth":1.2},"encoding":{"color":{"field":"s","type":"nominal","scale":{"domain":["+0.34 V","+0.65 V","+0.82 V"],"range":["#111111","#ff6b1c","#22a32a"]},"legend":{"title":null,"orient":"none","legendX":75.4,"legendY":10.3}}}},
{"data":{"name":"f_arr"},"mark":{"type":"rule","strokeDash":[1.2,1.5],"strokeWidth":1,"color":"#222"},"encoding":{"x2":{"field":"x2"},"y2":{"field":"y2"}}},
{"data":{"name":"f_arr"},"mark":{"type":"point","filled":true,"color":"#111","size":14,"opacity":1},"encoding":{"shape":{"field":"d","type":"nominal","scale":{"domain":["up","down"],"range":["triangle-up","triangle-down"]},"legend":null}}},
{"data":{"name":"f_t"},"transform":[{"filter":"datum.k==='p'"}],"mark":{"type":"text","align":"left","baseline":"middle","fontSize":8.5,"color":"#222"},"encoding":{"text":{"value":"poly("}}},
{"data":{"name":"f_t"},"transform":[{"filter":"datum.k==='p'"}],"mark":{"type":"text","align":"left","baseline":"middle","fontSize":8.5,"fontWeight":"bold","dx":18.4,"color":"#222"},"encoding":{"text":{"field":"n"}}},
{"data":{"name":"f_t"},"transform":[{"filter":"datum.k==='p'"}],"mark":{"type":"text","align":"left","baseline":"middle","fontSize":8.5,"dx":23.1,"color":"#222"},"encoding":{"text":{"value":")"}}},
{"data":{"name":"f_t"},"transform":[{"filter":"datum.k==='h'"}],"mark":{"type":"text","align":"center","baseline":"middle","fontSize":7,"fontWeight":"bold","color":"#222"},"encoding":{"text":{"value":"H-L"}}}
]}
]
}
